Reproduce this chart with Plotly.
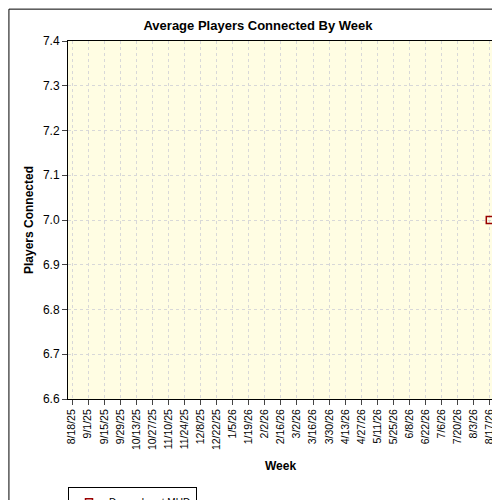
import datetime as dt
import plotly.graph_objects as go

start = dt.date(2025, 8, 18)
weeks = [start + dt.timedelta(days=7 * i) for i in range(53)]
week_labels = [f"{d.month}/{d.day}/{d.year % 100}" for d in weeks]
tick_labels = week_labels[::2]
players = [None] * 52 + [7.0]

fig = go.Figure()
fig.add_trace(go.Scatter(
    x=week_labels, y=players, mode="lines+markers", name="Dragonheart MUD",
    line=dict(color="#dd0000", width=4),
    marker=dict(symbol="square-open", size=7, color="#990000", line=dict(width=1.5)),
))
fig.update_layout(
    width=500, height=500,
    margin=dict(l=60, r=15, t=33, b=109, autoexpand=False),
    paper_bgcolor="white", plot_bgcolor="#fffde3",
    font=dict(family="Liberation Sans, Arial", size=11, color="black"),
    title=dict(text="<b>Average Players Connected By Week</b>", x=0.5, y=0.965,
               xanchor="center", yanchor="middle", font=dict(size=13)),
    showlegend=True,
    legend=dict(x=0.0, y=-0.245, xanchor="left", yanchor="top", orientation="h",
                bordercolor="black", borderwidth=1, font=dict(size=10),
                itemwidth=30, tracegroupgap=0),
    xaxis=dict(type="category", categoryorder="array", categoryarray=week_labels,
               tickmode="array", tickvals=tick_labels, ticktext=tick_labels,
               tickangle=-90, tickfont=dict(size=10.5), showgrid=True,
               gridcolor="#d8d8d8", griddash="dot", gridwidth=1,
               ticks="outside", ticklen=5, showline=True, linecolor="black",
               mirror=True, range=[-0.5, 52.4],
               title=dict(text="<b>Week</b>", font=dict(size=12), standoff=12)),
    yaxis=dict(range=[6.6, 7.4], dtick=0.1, tickformat=".1f", showgrid=True,
               gridcolor="#d8d8d8", griddash="dot", ticks="outside", ticklen=5,
               showline=True, linecolor="black", mirror=True, zeroline=False,
               tickfont=dict(size=12),
               title=dict(text="<b>Players Connected</b>", font=dict(size=12), standoff=6)),
    shapes=[dict(type="rect", xref="paper", yref="paper", x0=-0.139, y0=-0.302,
                 x1=1.033, y1=1.089, line=dict(color="black", width=1), layer="below")],
)
fig.write_html("out.html")
